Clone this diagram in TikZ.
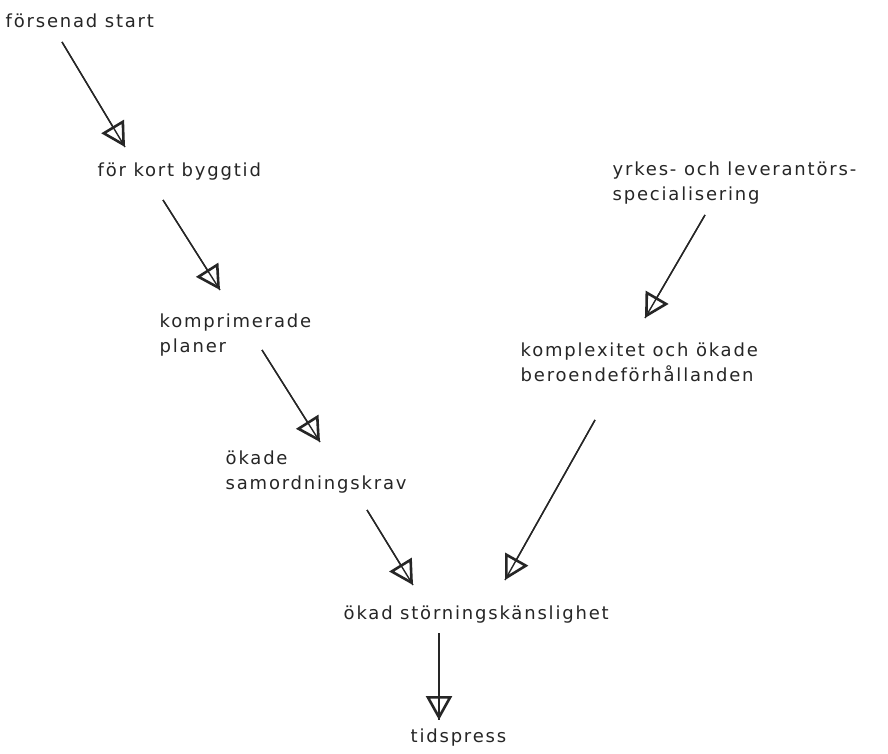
\documentclass[tikz,border=0pt]{standalone}
\usepackage{fontspec}
\setmainfont[LetterSpace=10]{DejaVu Sans}
\usetikzlibrary{arrows.meta}
\tikzset{every picture/.style={line width=1.4pt}}

\begin{document}
\begin{tikzpicture}[x=1pt,y=-1pt,
		txt/.style={anchor=west,inner sep=0pt,align=left,font=\fontsize{18}{25}\selectfont,text=black!85},
		pil/.style={draw=black!85,-{Triangle[open,length=24pt,width=26pt,line width=2.6pt]},postaction={draw,arrows=-}}]
		\path[use as bounding box,fill=white] (0,0) rectangle (888,754);
		\node[txt] (fs) at (5,21) {försenad start};
		\node[txt] (fk) at (97,172) {för kort byggtid};
		\node[txt] (kp) at (159,335) {komprimerade\\planer};
		\node[txt] (os) at (225,472) {ökade\\samordningskrav};
		\node[txt] (ys) at (612,183) {yrkes- och leverantörs-\\specialisering};
		\node[txt] (kb) at (520,362) {komplexitet och ökade\\beroendeförhållanden};
		\node[txt] (st) at (343,615) {ökad störningskänslighet};
		\node[txt] (tp) at (410,738) {tidspress};
		\draw[pil] ([shift={(57,21)}]fs.west) -- ([shift={(28,-25)}]fk.west);
		\draw[pil] ([shift={(66,28)}]fk.west) -- ([shift={(61,-45)}]kp.west);
		\draw[pil] ([shift={(103,15)}]kp.west) -- ([shift={(95,-30)}]os.west);
		\draw[pil] ([shift={(142,38)}]os.west) -- ([shift={(70,-30)}]st.west);
		\draw[pil] ([shift={(93,32)}]ys.west) -- ([shift={(125,-44)}]kb.west);
		\draw[pil] ([shift={(75,58)}]kb.west) -- ([shift={(162,-35)}]st.west);
		\draw[pil] ([shift={(96,18)}]st.west) -- ([shift={(29,-18)}]tp.west);
	\end{tikzpicture}
\end{document}
